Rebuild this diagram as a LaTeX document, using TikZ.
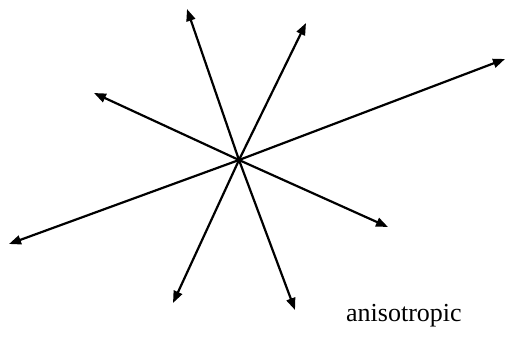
\documentclass[tikz,border=0pt]{standalone}
\usepackage{fontspec}
\setmainfont{Liberation Serif}
\usetikzlibrary{arrows.meta}
\begin{document}
\begin{tikzpicture}[x=1pt,y=1pt,
  ray/.style={line width=2.2pt,-{Triangle[length=12pt,width=9pt]}}]
\useasboundingbox (0,0) rectangle (509,338);
\coordinate (c) at (239,178);
\coordinate (l) at (9,94);
\coordinate (r) at (505,279);
\coordinate (ul) at (94,245);
\coordinate (lr) at (388,111);
\coordinate (t) at (187,329);
\coordinate (tr) at (306,315);
\coordinate (bl) at (173,35);
\coordinate (br) at (295,28);
\foreach \e in {l,r,ul,lr,t,tr,bl,br} \draw[ray] (c) -- (\e);
\node[anchor=base west,inner sep=0pt,font=\fontsize{26}{30}\selectfont] (lab) at (346,17) {anisotropic};
\end{tikzpicture}
\end{document}
